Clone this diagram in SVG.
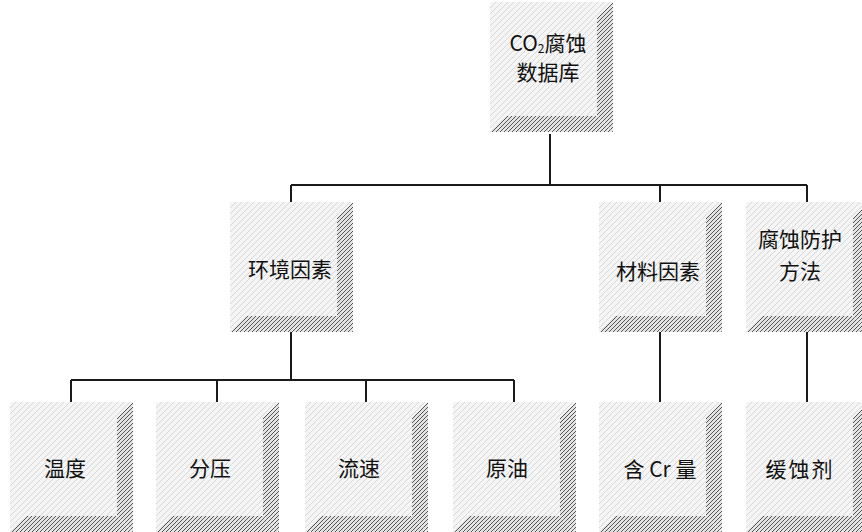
<svg xmlns="http://www.w3.org/2000/svg" width="862" height="532" viewBox="0 0 862 532">
<style>
.lbl{font-family:"Noto Sans CJK SC","Liberation Sans",sans-serif;font-size:21px;fill:#111;text-anchor:middle;dominant-baseline:central}
.conn{stroke:#1a1a1a;stroke-width:2;fill:none}
</style>
<defs>
<pattern id="face" width="6" height="6" patternUnits="userSpaceOnUse">
<rect width="6" height="6" fill="#f5f5f5"/>
<path d="M0 6L6 0" stroke="#cfcfcf" stroke-width="0.8"/>
</pattern>
<pattern id="hatch" width="4" height="4" patternUnits="userSpaceOnUse">
<rect width="4" height="4" fill="#e4e4e4"/>
<path d="M-1 1L1 -1M0 4L4 0M3 5L5 3" stroke="#555" stroke-width="1"/>
</pattern>
<g id="box">
<rect x="0" y="0" width="123" height="130" fill="url(#face)"/>
<polygon points="107,16 123,0 123,130 107,114" fill="url(#hatch)"/>
<polygon points="0,130 16,114 107,114 123,130" fill="url(#hatch)"/>
</g>
</defs>
<rect width="862" height="532" fill="#fff"/>
<g id="connectors">
<path class="conn" d="M550 134V185M291 185H807M291 185V202M660 185V202M807 185V202"/>
<path class="conn" d="M291 332V380M71 380H514M71 380V402M217 380V402M366 380V402M514 380V402"/>
<path class="conn" d="M660 332V402M807 332V402"/>
</g>
<g id="root"><use href="#box" x="490" y="2"/>
<text class="lbl" x="548" y="42">CO<tspan font-size="12" dy="5">2</tspan><tspan dy="-5">腐蚀</tspan></text>
<text class="lbl" x="548" y="71">数据库</text></g>
<g id="env"><use href="#box" x="230" y="202"/><text class="lbl" x="290" y="268">环境因素</text></g>
<g id="mat"><use href="#box" x="599" y="202"/><text class="lbl" x="658" y="270">材料因素</text></g>
<g id="prot"><use href="#box" x="746" y="202"/>
<text class="lbl" x="800" y="238" font-size="19">腐蚀防护</text>
<text class="lbl" x="800" y="270" font-size="19">方法</text></g>
<g id="temp"><use href="#box" x="10" y="402"/><text class="lbl" x="65" y="467">温度</text></g>
<g id="press"><use href="#box" x="156" y="402"/><text class="lbl" x="210" y="467">分压</text></g>
<g id="flow"><use href="#box" x="305" y="402"/><text class="lbl" x="359" y="467">流速</text></g>
<g id="oil"><use href="#box" x="453" y="402"/><text class="lbl" x="507" y="467">原油</text></g>
<g id="cr"><use href="#box" x="599" y="402"/><text class="lbl" x="660" y="468">含 Cr 量</text></g>
<g id="inh"><use href="#box" x="746" y="402"/><text class="lbl" x="800" y="468" letter-spacing="2">缓蚀剂</text></g>
</svg>
